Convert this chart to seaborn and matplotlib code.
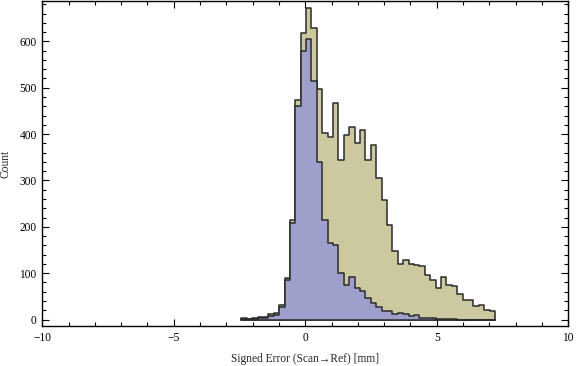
import matplotlib
matplotlib.use("Agg")
import matplotlib.pyplot as plt
import numpy as np
import pandas as pd
import seaborn as sns
from matplotlib.ticker import MultipleLocator

# bin edges (47 bins, ~0.205 wide)
bin_lo = -2.43
bin_hi = 7.21
n_bins = 47

# counts per bin (left to right)
all_counts = [4, 2, 3, 6, 6, 11, 13, 32, 90, 215, 473, 619, 672, 628, 498, 403,
              394, 468, 345, 397, 416, 381, 409, 343, 377, 306, 257, 203, 147, 119, 129, 119,
              118, 116, 97, 86, 67, 91, 75, 73, 54, 43, 42, 29, 32, 20, 18]
subset_counts = [1, 1, 1, 4, 4, 7, 9, 28, 85, 208, 460, 579, 606, 515, 340, 215,
                 164, 161, 101, 75, 91, 69, 62, 47, 36, 26, 19, 19, 11, 14, 11, 7,
                 9, 4, 4, 4, 2, 1, 1, 1, 0, 0, 0, 0, 0, 0, 0]

x_ticks = [-10, -5, 0, 5, 10]
y_ticks = [0, 100, 200, 300, 400, 500, 600]

edges = np.linspace(bin_lo, bin_hi, n_bins + 1)
centers = (edges[:-1] + edges[1:]) / 2
df = pd.DataFrame({"err": centers, "all": all_counts, "subset": subset_counts})

sns.set_style("ticks")
plt.rcParams["font.family"] = ["Liberation Serif", "DejaVu Serif"]

fig = plt.figure(figsize=(5.76, 3.66), dpi=100)
ax = fig.add_axes([0.0734, 0.1093, 0.9132, 0.8880])

sns.histplot(data=df, x="err", weights="all", bins=list(edges), element="step", fill=True,
             color="#ccc8a0", alpha=1, edgecolor="#2b2b2b", linewidth=1.1, ax=ax)
sns.histplot(data=df, x="err", weights="subset", bins=list(edges), element="step", fill=True,
             color="#9f9fcc", alpha=1, edgecolor="#2b2b2b", linewidth=1.1, ax=ax)

ax.set_xlim(-10, 10)
ax.set_ylim(-14, 687)
ax.set_xticks(x_ticks)
ax.set_xticklabels(["\u221210", "\u22125", "0", "5", "10"])
ax.set_yticks(y_ticks)
ax.xaxis.set_minor_locator(MultipleLocator(1))
ax.yaxis.set_minor_locator(MultipleLocator(20))
ax.tick_params(which="both", direction="in", top=True, right=True,
               labelsize=8.3, colors="black", width=0.8, pad=4)
ax.tick_params(which="major", length=5)
ax.tick_params(which="minor", length=3)
for side in ax.spines.values():
    side.set_visible(True)
    side.set_linewidth(1.0)
    side.set_color("black")

ax.set_xlabel("Signed Error (Scan\u2192Ref) [mm]", fontsize=8.3, labelpad=7)
ax.set_ylabel("Count", fontsize=8.3, labelpad=6)

fig.savefig("out.png", dpi=100)
